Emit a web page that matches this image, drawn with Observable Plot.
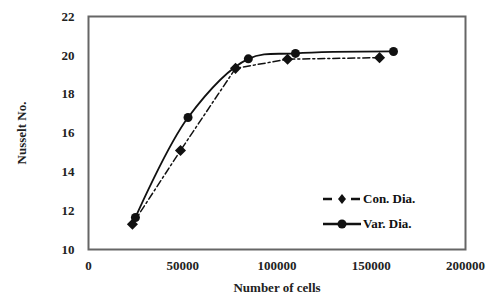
<!DOCTYPE html>
<html><head><meta charset="utf-8">
<script src="https://cdn.jsdelivr.net/npm/d3@7"></script>
<script src="https://cdn.jsdelivr.net/npm/@observablehq/plot@0.6"></script>
<style>
body{margin:0;background:#fff;}
#wrap{position:relative;width:488px;height:298px;font-family:"Liberation Serif","DejaVu Serif",serif;}
#wrap svg text{font-family:"Liberation Serif","DejaVu Serif",serif;font-weight:bold;}
#legend{position:absolute;left:322px;top:186px;font-weight:bold;font-size:13px;color:#111;line-height:25px;font-family:"Liberation Serif","DejaVu Serif",serif;}
#legend div{display:flex;align-items:center;}
#legend svg{margin-right:1px;}
</style>
</head><body>
<div id="wrap"></div>
<script>
const conCells = [23300, 48800, 78000, 105600, 154400];
const conNu    = [11.3, 15.1, 19.33, 19.8, 19.88];
const varCells = [24900, 52800, 84800, 109800, 161800];
const varNu    = [11.65, 16.8, 19.82, 20.1, 20.2];
const xTicks = [0, 50000, 100000, 150000, 200000];
const yTicks = [10, 12, 14, 16, 18, 20, 22];

const con = conCells.map((c,i)=>({x:c,y:conNu[i]}));
const vr  = varCells.map((c,i)=>({x:c,y:varNu[i]}));

const plot = Plot.plot({
  width: 488, height: 298,
  marginLeft: 88, marginRight: 23, marginTop: 16, marginBottom: 49,
  style: {fontSize: "13px", color: "#222", background: "#fff"},
  x: {domain: [0, 200000], ticks: xTicks, tickSize: 0, tickPadding: 11, tickFormat: d => String(d), label: "Number of cells", labelAnchor: "center", labelArrow: "none", labelOffset: 42},
  y: {domain: [10, 22], ticks: yTicks, tickSize: 0, tickPadding: 14, label: "Nusselt No.", labelAnchor: "center", labelArrow: "none", labelOffset: 72},
  marks: [
    Plot.frame({stroke: "#666", strokeWidth: 2}),
    Plot.line(con, {x: "x", y: "y", stroke: "#111", strokeWidth: 1.5, strokeDasharray: "7,3,2,3"}),
    Plot.dot(con, {x: "x", y: "y", symbol: "diamond2", r: 5, fill: "#111", stroke: "none"}),
    Plot.line(vr, {x: "x", y: "y", curve: "catmull-rom", stroke: "#111", strokeWidth: 1.8}),
    Plot.dot(vr, {x: "x", y: "y", symbol: "circle", r: 4.5, fill: "#111", stroke: "none"})
  ]
});
document.getElementById("wrap").appendChild(plot);

const legend = document.createElement("div");
legend.id = "legend";
legend.innerHTML = `
<div><svg width="40" height="12"><line x1="1" y1="6" x2="10" y2="6" stroke="#111" stroke-width="2.5"/><line x1="29" y1="6" x2="38" y2="6" stroke="#111" stroke-width="2.5"/><path d="M20,1 L24,6 L20,11 L16,6 Z" fill="#111"/></svg>Con. Dia.</div>
<div><svg width="40" height="12"><line x1="1" y1="6" x2="39" y2="6" stroke="#111" stroke-width="2.5"/><circle cx="20" cy="6" r="4.5" fill="#111"/></svg>Var. Dia.</div>`;
document.getElementById("wrap").appendChild(legend);
</script>
</body></html>
